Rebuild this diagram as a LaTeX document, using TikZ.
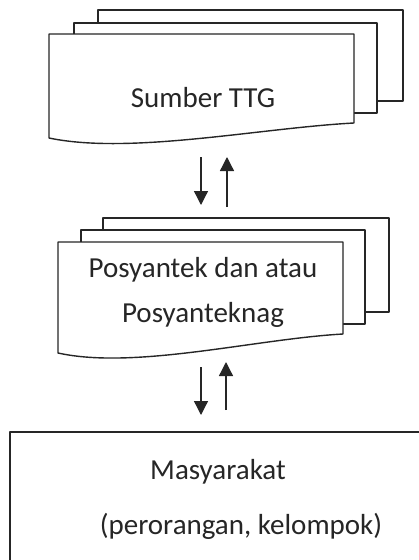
\documentclass[tikz,border=0pt]{standalone}
\usepackage{fontspec}
\setmainfont{Carlito}
\usetikzlibrary{arrows.meta}

\begin{document}
\begin{tikzpicture}[x=1pt,y=-1pt,
  sheet/.style={draw=black!85,line width=1.4pt,fill=white,line join=round},
  label node/.style={font=\fontsize{29}{45}\selectfont,align=center,text=black!85,inner sep=0pt},
  flow/.style={draw=black!85,line width=1.3pt,-{Triangle[length=14pt,width=14pt]}}]

  \useasboundingbox (0,0) rectangle (419,560);
  \clip (0,0) rectangle (419,560);

  % sumber ttg (three sheets)
  \draw[sheet] (98,101) -- (98,10) -- (403,10) -- (403,101) -- cycle;
  \draw[sheet] (74,113) -- (74,23) -- (377,23) -- (377,113) -- cycle;
  \draw[sheet] (49,138) -- (49,34) -- (354,34) -- (354,123)
    .. controls (260,128) and (130,155) .. (49,138) -- cycle;

  % posyantek (three sheets)
  \draw[sheet] (103,312) -- (103,218) -- (389,218) -- (389,312) -- cycle;
  \draw[sheet] (81,324) -- (81,230) -- (365,230) -- (365,324) -- cycle;
  \draw[sheet] (58,353) -- (58,242) -- (343,242) -- (343,334)
    .. controls (255,339) and (135,370) .. (58,353) -- cycle;

  % masyarakat
  \draw[sheet] (10,620) rectangle (470,432);

  \node[label node] (ttg) at (203,98) {Sumber TTG};
  \node[label node] (pos) at (203,292) {Posyantek dan atau\\Posyanteknag};
  \node[label node] (mas) at (218,472) {Masyarakat};
  \node[label node] (kel) at (241,526) {(perorangan, kelompok)};

  \coordinate (ttg-a) at (201,157);
  \coordinate (ttg-b) at (227,157);
  \coordinate (pos-a) at (201,205);
  \coordinate (pos-b) at (227,207);
  \coordinate (pos-c) at (201,367);
  \coordinate (pos-d) at (226,362);
  \coordinate (mas-a) at (201,415);
  \coordinate (mas-b) at (226,410);

  \path[every edge/.style={flow}]
   (ttg-a) edge (pos-a)
   (pos-b) edge (ttg-b)
   (pos-c) edge (mas-a)
   (mas-b) edge (pos-d);
\end{tikzpicture}
\end{document}
